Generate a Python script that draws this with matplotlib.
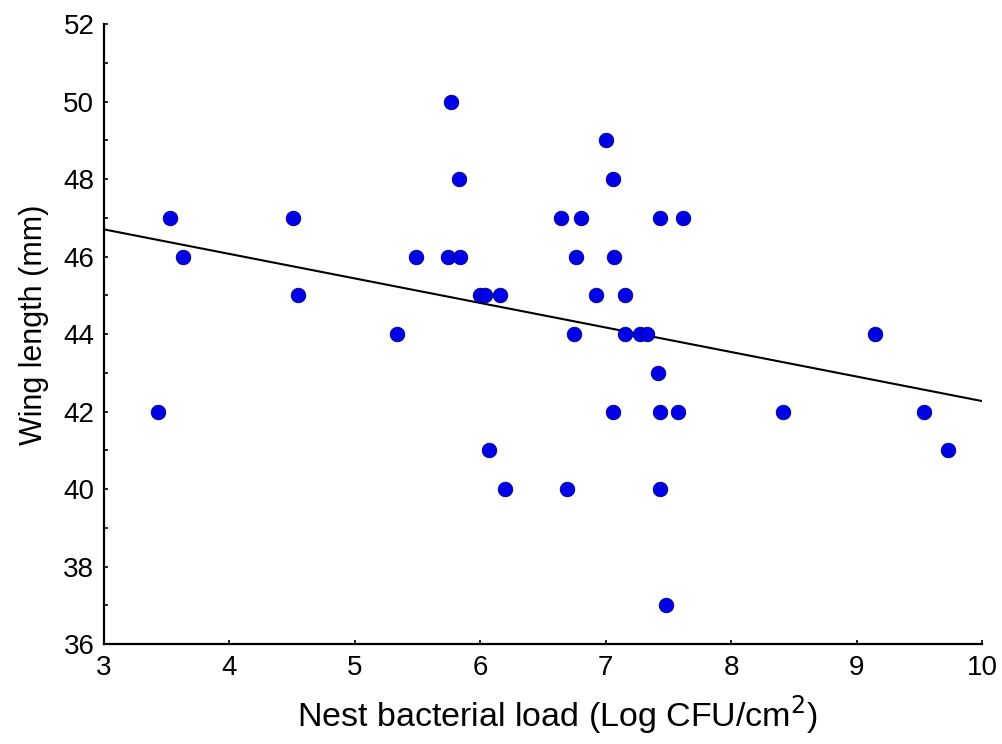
import matplotlib.pyplot as plt
from matplotlib.ticker import MultipleLocator

# nest bacterial load (log CFU/cm2) and wing length (mm)
bacterial_load = [3.43, 3.53, 3.63,
                  4.51, 4.55,
                  5.34, 5.49, 5.74, 5.77, 5.83, 5.84,
                  6.00, 6.04, 6.16, 6.07, 6.20,
                  6.64, 6.69, 6.75, 6.76, 6.80, 6.92,
                  7.00, 7.06, 7.07, 7.06, 7.15, 7.15, 7.27, 7.33,
                  7.42, 7.43, 7.43, 7.43, 7.48, 7.58, 7.62,
                  8.41, 9.15, 9.54, 9.73]
wing_length = [42, 47, 46,
               47, 45,
               44, 46, 46, 50, 48, 46,
               45, 45, 45, 41, 40,
               47, 40, 44, 46, 47, 45,
               49, 48, 46, 42, 45, 44, 44, 44,
               43, 42, 40, 47, 37, 42, 47,
               42, 44, 42, 41]

# regression line end points as drawn
fit_x = [3, 10]
fit_y = [46.70, 42.27]

plt.rcParams['font.family'] = ['Liberation Sans', 'DejaVu Sans']

fig = plt.figure(figsize=(10.02, 7.44), dpi=100)
ax = fig.add_axes([0.1038, 0.1344, 0.980 - 0.1038, 0.9677 - 0.1344])

ax.plot(fit_x, fit_y, color='black', lw=1.5, zorder=2)
ax.scatter(bacterial_load, wing_length, s=110, color='#0000e6',
           edgecolor='#000080', linewidth=0.6, zorder=3)

ax.set_xlim(3, 10)
ax.set_ylim(36, 52)
ax.xaxis.set_major_locator(MultipleLocator(1))
ax.yaxis.set_major_locator(MultipleLocator(2))
ax.yaxis.set_minor_locator(MultipleLocator(1))

for side in ['top', 'right']:
    ax.spines[side].set_visible(False)
for side in ['left', 'bottom']:
    ax.spines[side].set_linewidth(1.6)

ax.tick_params(which='both', direction='in', length=3, width=1.2, labelsize=20)
ax.tick_params(axis='x', pad=8)
ax.tick_params(axis='y', pad=7)

ax.set_xlabel('Nest bacterial load (Log CFU/cm$^2$)', fontsize=24.5, labelpad=9)
ax.set_ylabel('Wing length (mm)', fontsize=22, labelpad=10)
ax.xaxis.label.set_x(0.517)
ax.yaxis.label.set_y(0.515)

fig.savefig('out.png', dpi=100)
